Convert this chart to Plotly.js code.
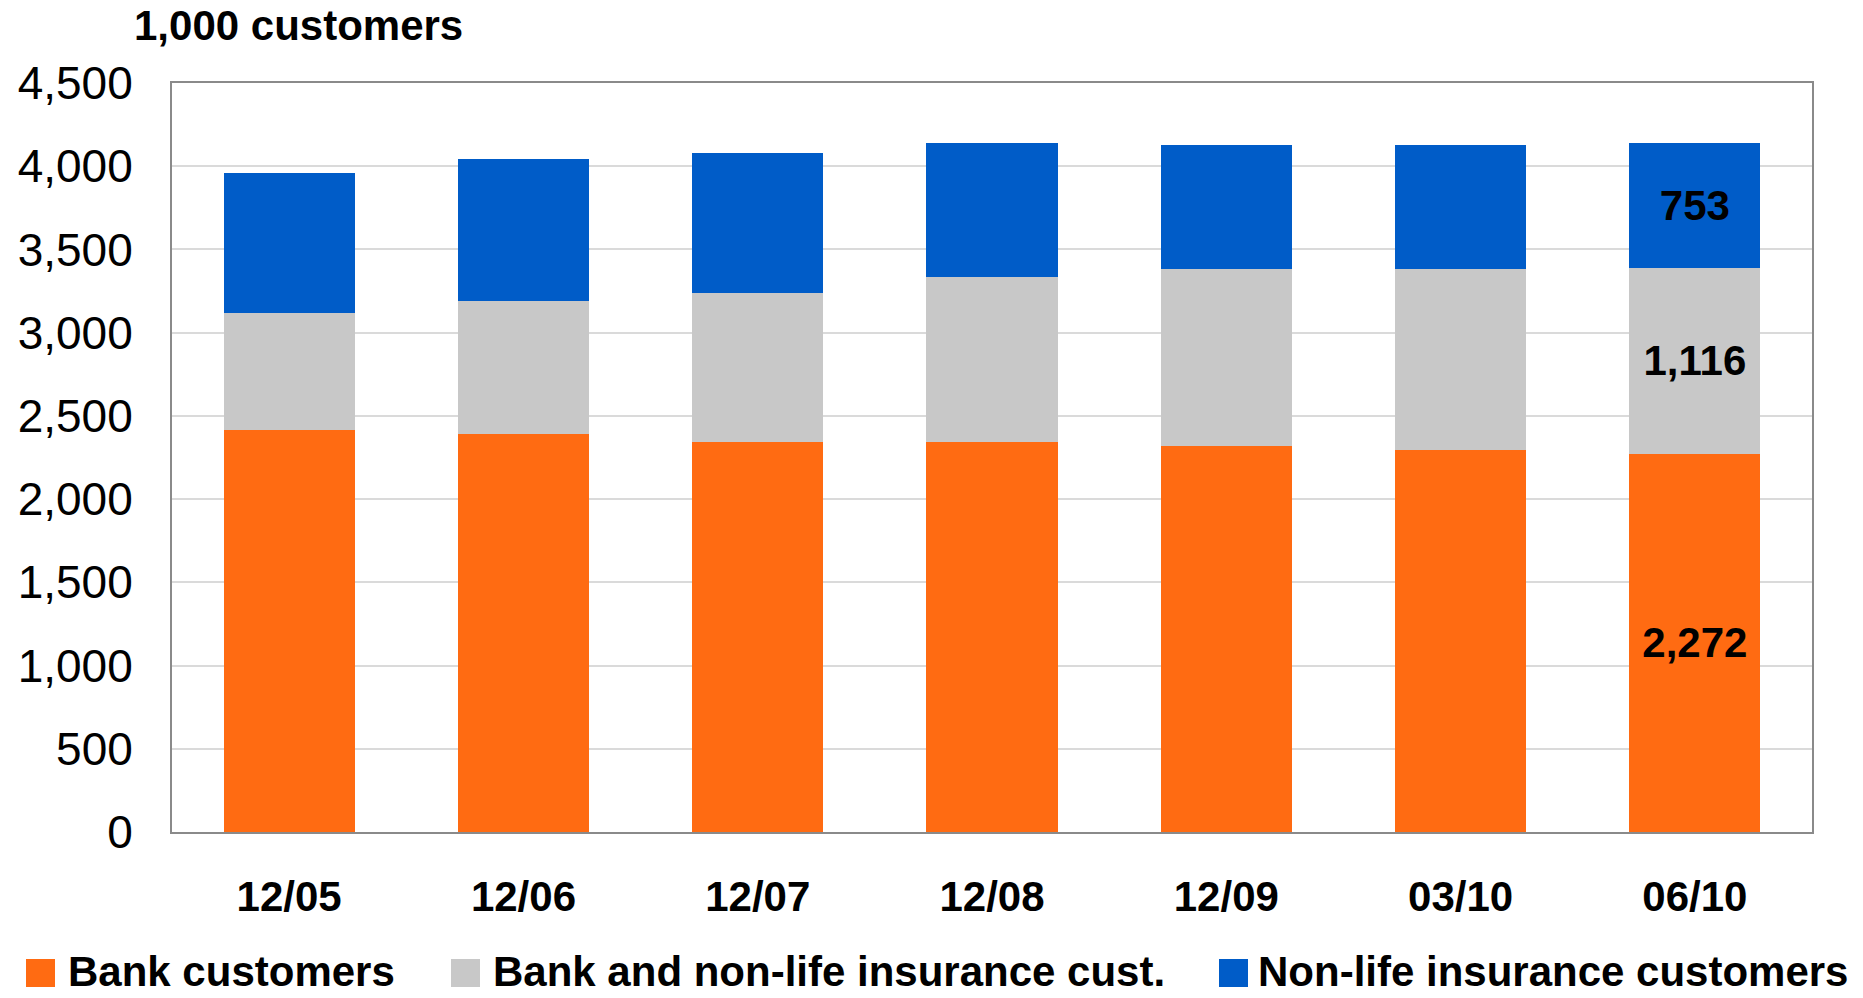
<!DOCTYPE html>
<html>
<head>
<meta charset="utf-8">
<script src="https://cdn.plot.ly/plotly-3.0.1.min.js"></script>
<style>
  html, body { margin: 0; padding: 0; background: #fff; }
  #chart { width: 1863px; height: 998px; }
</style>
</head>
<body>
<div id="chart"></div>
<script>
// Customer base by period (thousands of customers)
const periods = ['12/05', '12/06', '12/07', '12/08', '12/09', '03/10', '06/10'];
const bankCustomers = [2416, 2394, 2346, 2346, 2320, 2296, 2272];
const bankAndNonLife = [705, 797, 893, 989, 1063, 1087, 1116];
const nonLifeCustomers = [841, 853, 841, 805, 745, 745, 753];

const seriesNames = ['Bank customers', 'Bank and non-life insurance cust.', 'Non-life insurance customers'];
const seriesColors = ['#FF6B12', '#C8C8C8', '#005CC8'];

const FONT = '"Liberation Sans", Arial, sans-serif';
const W = 1863, H = 998;
const M = { l: 172, r: 51, t: 83, b: 166 };
const plotW = W - M.l - M.r, plotH = H - M.t - M.b;
const px2x = px => (px - M.l) / plotW;
const px2y = py => (H - M.b - py) / plotH;

// only the latest period carries value labels
const lastIdx = periods.length - 1;
const labelText = vals => vals.map((v, i) => i === lastIdx ? v.toLocaleString('en-US') : '');

const seriesValues = [bankCustomers, bankAndNonLife, nonLifeCustomers];
const traces = seriesValues.map((vals, k) => ({
  type: 'bar',
  name: seriesNames[k],
  x: periods,
  y: vals,
  marker: { color: seriesColors[k], line: { width: 0 } },
  text: labelText(vals),
  textposition: 'inside',
  insidetextanchor: 'middle',
  constraintext: 'none',
  textfont: { family: FONT, size: 42, color: '#000', weight: 'bold' },
  hoverinfo: 'x+y+name',
  showlegend: false
}));

// hand-built legend row along the bottom edge
const legendItems = [
  { sq: 26, tx: 66 },
  { sq: 451, tx: 491 },
  { sq: 1219, tx: 1256 }
];
const shapes = legendItems.map((it, k) => ({
  type: 'rect', xref: 'paper', yref: 'paper',
  x0: px2x(it.sq), x1: px2x(it.sq + 29),
  y0: px2y(987), y1: px2y(959),
  fillcolor: seriesColors[k], line: { width: 0 }
}));
const annotations = legendItems.map((it, k) => ({
  xref: 'paper', yref: 'paper',
  x: px2x(it.tx), y: px2y(971),
  xanchor: 'left', yanchor: 'middle',
  text: seriesNames[k], showarrow: false,
  font: { family: FONT, size: 42, color: '#000', weight: 'bold' }
}));

const layout = {
  width: W, height: H,
  margin: M,
  paper_bgcolor: '#fff', plot_bgcolor: '#fff',
  barmode: 'stack',
  bargap: 0.44,
  title: {
    text: '1,000 customers',
    xref: 'container', yref: 'container',
    x: 134 / W, xanchor: 'left',
    y: 1 - 25 / H, yanchor: 'middle',
    font: { family: FONT, size: 42, color: '#000', weight: 'bold' }
  },
  xaxis: {
    type: 'category',
    showline: true, linecolor: '#8a8a8a', linewidth: 2, mirror: true,
    showgrid: false, ticks: '',
    ticklabelstandoff: 27,
    tickfont: { family: FONT, size: 42, color: '#000', weight: 'bold' }
  },
  yaxis: {
    range: [0, 4500], dtick: 500, tick0: 0,
    tickformat: ',d',
    showline: true, linecolor: '#8a8a8a', linewidth: 2, mirror: true,
    showgrid: true, gridcolor: '#dadada', gridwidth: 2,
    zeroline: false, ticks: '',
    ticklabelstandoff: 28,
    tickfont: { family: FONT, size: 46, color: '#000' }
  },
  shapes: shapes,
  annotations: annotations,
  showlegend: false
};

Plotly.newPlot('chart', traces, layout, { displayModeBar: false, staticPlot: true });
</script>
</body>
</html>
